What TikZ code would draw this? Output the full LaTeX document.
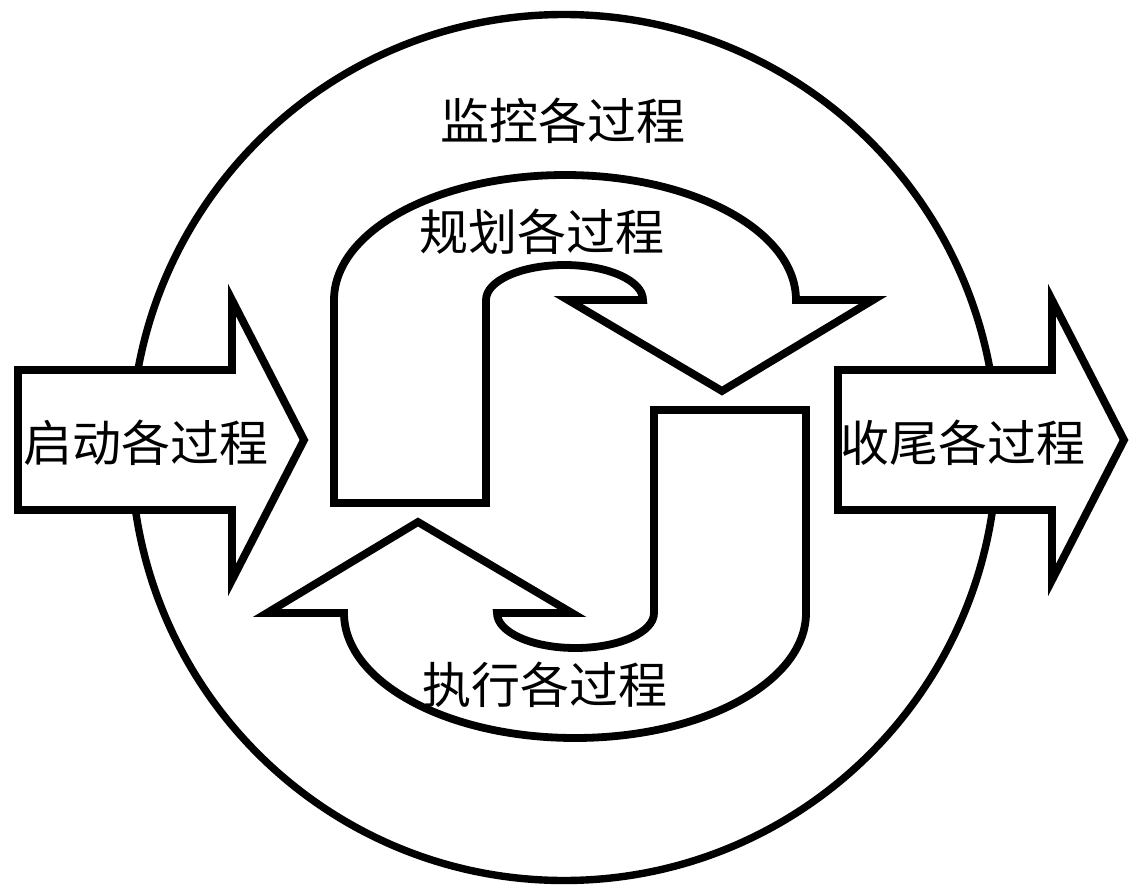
\documentclass[tikz,border=0pt]{standalone}
\usepackage{fontspec}
\newfontfamily\cjk{Noto Sans CJK SC}
\usetikzlibrary{positioning}

\tikzset{
  outline/.style={draw, line width=3.9pt, fill=white},
  proctext/.style={font=\cjk\fontsize{24.5}{26}\selectfont, inner sep=0pt}
}

\begin{document}
\begin{tikzpicture}[x=0.5pt, y=-0.5pt]
      \useasboundingbox (0,0) rectangle (1136,894);

      % Okrag
      \draw [line width=3.7pt] (564,447.5) circle [x radius=433, y radius=433];
      \node [proctext] (monitor) at (563,121) {监控各过程};

      % Wejscie i wyjscie
      \draw [outline] (18,370) -- (232,370) -- (232,300) -- (304,440)
        -- (232,580) -- (232,510) -- (18,510) -- cycle;
      \node [proctext] (init) at (146,443) {启动各过程};

      \draw [outline] (838,370) -- (1052,370) -- (1052,300) -- (1124,440)
        -- (1052,580) -- (1052,510) -- (838,510) -- cycle;
      \node [proctext] (close) at (963,443) {收尾各过程};

      % Petla
      \draw [outline] (334,503) -- (334,300)
        arc [start angle=180, end angle=360, x radius=231, y radius=125]
        -- (873,300) -- (722,391) -- (568,300) -- (643,300)
        arc [start angle=0, end angle=-180, x radius=78.5, y radius=35]
        -- (486,503) -- cycle;
      \node [proctext] (plan) at (542,232) {规划各过程};

      \begin{scope}[rotate around={180:(570,456.5)}]
        \draw [outline] (334,503) -- (334,300)
          arc [start angle=180, end angle=360, x radius=231, y radius=125]
          -- (873,300) -- (722,391) -- (568,300) -- (643,300)
          arc [start angle=0, end angle=-180, x radius=78.5, y radius=35]
          -- (486,503) -- cycle;
      \end{scope}
      \node [proctext] (exec) at (545,685) {执行各过程};
    \end{tikzpicture}
\end{document}
